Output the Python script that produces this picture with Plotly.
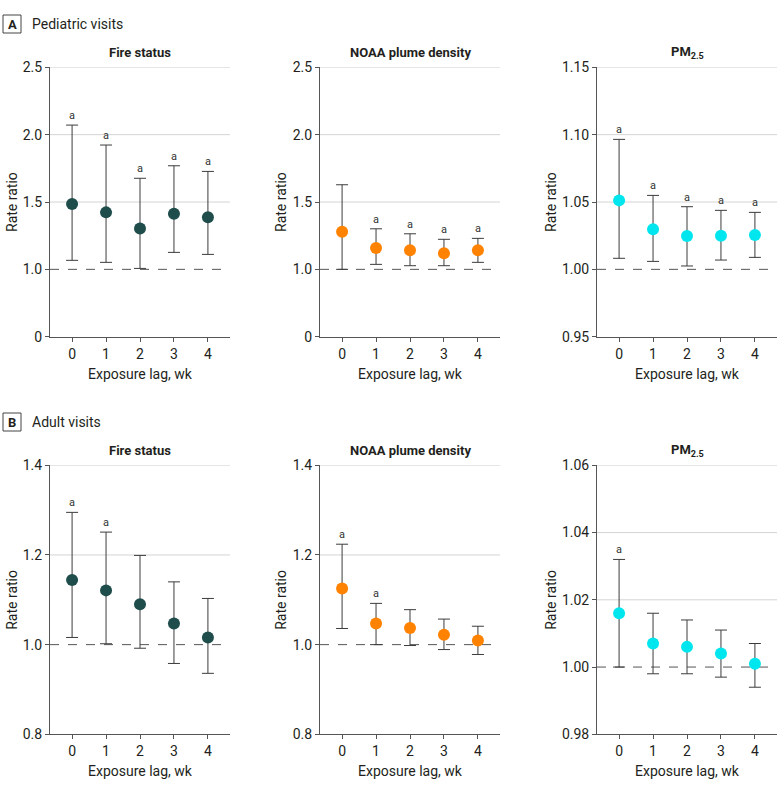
#imports
#plotly graph objects for the figure
import plotly.graph_objects as go

#exposure lag in weeks
lags = [0, 1, 2, 3, 4]

#pediatric visits - rate ratio, lower/upper CI, significance marker
ped_fire_rr = [1.485, 1.423, 1.304, 1.413, 1.386]
ped_fire_lo = [1.067, 1.052, 1.007, 1.126, 1.111]
ped_fire_hi = [2.071, 1.923, 1.676, 1.769, 1.727]
ped_fire_sig = [1, 1, 1, 1, 1]

ped_noaa_rr = [1.279, 1.158, 1.141, 1.119, 1.141]
ped_noaa_lo = [1.000, 1.037, 1.027, 1.027, 1.052]
ped_noaa_hi = [1.628, 1.301, 1.264, 1.223, 1.230]
ped_noaa_sig = [0, 1, 1, 1, 1]

ped_pm_rr = [1.0512, 1.0297, 1.0247, 1.0250, 1.0255]
ped_pm_lo = [1.0082, 1.0059, 1.0025, 1.0069, 1.0089]
ped_pm_hi = [1.0965, 1.0549, 1.0465, 1.0438, 1.0423]
ped_pm_sig = [1, 1, 1, 1, 1]

#adult visits
adult_fire_rr = [1.144, 1.121, 1.090, 1.047, 1.016]
adult_fire_lo = [1.016, 1.002, 0.992, 0.958, 0.936]
adult_fire_hi = [1.295, 1.251, 1.199, 1.140, 1.103]
adult_fire_sig = [1, 1, 0, 0, 0]

adult_noaa_rr = [1.125, 1.047, 1.037, 1.022, 1.009]
adult_noaa_lo = [1.036, 1.000, 0.998, 0.989, 0.978]
adult_noaa_hi = [1.224, 1.092, 1.078, 1.057, 1.041]
adult_noaa_sig = [1, 1, 0, 0, 0]

adult_pm_rr = [1.016, 1.007, 1.006, 1.004, 1.001]
adult_pm_lo = [1.000, 0.998, 0.998, 0.997, 0.994]
adult_pm_hi = [1.032, 1.016, 1.014, 1.011, 1.007]
adult_pm_sig = [1, 0, 0, 0, 0]

#panel titles and exposure colours
col_titles = ['Fire status', 'NOAA plume density', 'PM<sub>2.5</sub>']
col_colors = ['#1e4d4b', '#ff8200', '#00e6ee']

FONT = 'Roboto, Arial, sans-serif'
W, H = 780, 789

panels = [
    (ped_fire_rr, ped_fire_lo, ped_fire_hi, ped_fire_sig),
    (ped_noaa_rr, ped_noaa_lo, ped_noaa_hi, ped_noaa_sig),
    (ped_pm_rr, ped_pm_lo, ped_pm_hi, ped_pm_sig),
    (adult_fire_rr, adult_fire_lo, adult_fire_hi, adult_fire_sig),
    (adult_noaa_rr, adult_noaa_lo, adult_noaa_hi, adult_noaa_sig),
    (adult_pm_rr, adult_pm_lo, adult_pm_hi, adult_pm_sig),
]

#y axis setup per panel: range, tick values, tick labels
yaxes_cfg = [
    ([0.5, 2.5], [0.5, 1.0, 1.5, 2.0, 2.5], ['0', '1.0', '1.5', '2.0', '2.5']),
    ([0.5, 2.5], [0.5, 1.0, 1.5, 2.0, 2.5], ['0', '1.0', '1.5', '2.0', '2.5']),
    ([0.95, 1.15], [0.95, 1.00, 1.05, 1.10, 1.15], ['0.95', '1.00', '1.05', '1.10', '1.15']),
    ([0.8, 1.4], [0.8, 1.0, 1.2, 1.4], ['0.8', '1.0', '1.2', '1.4']),
    ([0.8, 1.4], [0.8, 1.0, 1.2, 1.4], ['0.8', '1.0', '1.2', '1.4']),
    ([0.98, 1.06], [0.98, 1.00, 1.02, 1.04, 1.06], ['0.98', '1.00', '1.02', '1.04', '1.06']),
]

#pixel layout of the plot areas
x_left = [50, 320, 597]
plot_w = 180
row_top = [67.3, 465.3]
row_bot = [336.7, 734.3]
ytitle_x = [12, 281, 551]


def px(x):
    return x / W


def py(y):
    return 1 - y / H


fig = go.Figure()
layout = dict(
    width=W, height=H,
    margin=dict(l=0, r=0, t=0, b=0, autoexpand=False),
    paper_bgcolor='white', plot_bgcolor='white',
    showlegend=False,
    font=dict(family=FONT, size=14, color='#231f20'),
)
shapes = []
annotations = []

for i, (rr, lo, hi, sig) in enumerate(panels):
    row, col = divmod(i, 3)
    n = i + 1
    xa = 'x' if n == 1 else 'x%d' % n
    ya = 'y' if n == 1 else 'y%d' % n
    fig.add_trace(go.Scatter(
        x=lags, y=rr, mode='markers',
        xaxis=xa, yaxis=ya,
        marker=dict(size=12, color=col_colors[col]),
        error_y=dict(type='data', symmetric=False,
                     array=[h - r for h, r in zip(hi, rr)],
                     arrayminus=[r - l for r, l in zip(rr, lo)],
                     color='#3c3c3c', thickness=1, width=6),
        cliponaxis=False,
    ))
    rng, tv, tt = yaxes_cfg[i]
    x0 = px(x_left[col])
    x1 = px(x_left[col] + plot_w)
    y0 = py(row_bot[row])
    y1 = py(row_top[row])
    layout['xaxis' if n == 1 else 'xaxis%d' % n] = dict(
        domain=[x0, x1], anchor=ya, range=[-0.65, 4.65],
        tickvals=lags, ticks='outside', ticklen=4, tickcolor='#555',
        showline=True, linecolor='#555', linewidth=1, showgrid=False,
        zeroline=False, tickfont=dict(size=14), automargin=False,
    )
    layout['yaxis' if n == 1 else 'yaxis%d' % n] = dict(
        domain=[y0, y1], anchor=xa, range=rng,
        tickvals=tv, ticktext=tt, ticks='outside', ticklen=4, tickcolor='#555',
        showline=True, linecolor='#555', linewidth=1, showgrid=False,
        zeroline=False, tickfont=dict(size=14), automargin=False,
    )
    #light gridlines at the upper ticks (skip the axis base and the ratio 1 line)
    for v in tv[1:]:
        if abs(v - 1.0) < 1e-9:
            continue
        shapes.append(dict(type='line', xref='paper', yref=ya,
                           x0=x0, x1=x1, y0=v, y1=v, layer='below',
                           line=dict(color='#d4d4d4', width=1)))
    #reference line at rate ratio 1
    shapes.append(dict(type='line', xref='paper', yref=ya,
                       x0=x0, x1=x1, y0=1.0, y1=1.0, layer='below',
                       line=dict(color='#555', width=1, dash='dash')))
    #significance markers
    for lag, h, s in zip(lags, hi, sig):
        if s:
            annotations.append(dict(x=lag, y=h, xref=xa, yref=ya, text='a',
                                    showarrow=False, xanchor='center',
                                    yanchor='bottom', yshift=1,
                                    font=dict(size=11, color='#333')))
    #panel title
    annotations.append(dict(x=(x0 + x1) / 2, y=py(row_top[row] - 15),
                            xref='paper', yref='paper', xanchor='center', yanchor='middle',
                            text='<b>%s</b>' % col_titles[col], showarrow=False,
                            font=dict(size=13)))
    #axis titles
    annotations.append(dict(x=px(ytitle_x[col]), y=(y0 + y1) / 2,
                            xref='paper', yref='paper', xanchor='center', yanchor='middle',
                            text='Rate ratio', textangle=-90, showarrow=False,
                            font=dict(size=14)))
    annotations.append(dict(x=(x0 + x1) / 2, y=py(row_bot[row] + 37),
                            xref='paper', yref='paper', xanchor='center', yanchor='middle',
                            text='Exposure lag, wk', showarrow=False,
                            font=dict(size=14)))

#section labels with boxed letters
for letter, label, ytop in [('A', 'Pediatric visits', 15), ('B', 'Adult visits', 413)]:
    shapes.append(dict(type='rect', xref='paper', yref='paper',
                       x0=px(3), x1=px(21), y0=py(ytop + 18), y1=py(ytop),
                       line=dict(color='#444', width=1)))
    annotations.append(dict(x=px(12), y=py(ytop + 9), xref='paper', yref='paper',
                            xanchor='center', yanchor='middle',
                            text='<b>%s</b>' % letter, showarrow=False,
                            font=dict(size=13)))
    annotations.append(dict(x=px(30), y=py(ytop + 9), xref='paper', yref='paper',
                            xanchor='left', yanchor='middle',
                            text=label, showarrow=False,
                            font=dict(size=14)))

layout['shapes'] = shapes
layout['annotations'] = annotations
fig.update_layout(**layout)

#drop the default page margin so the figure sits at the window corner
fig.write_html('out.html', config={'displayModeBar': False},
               post_script="document.body.style.margin='0';")
